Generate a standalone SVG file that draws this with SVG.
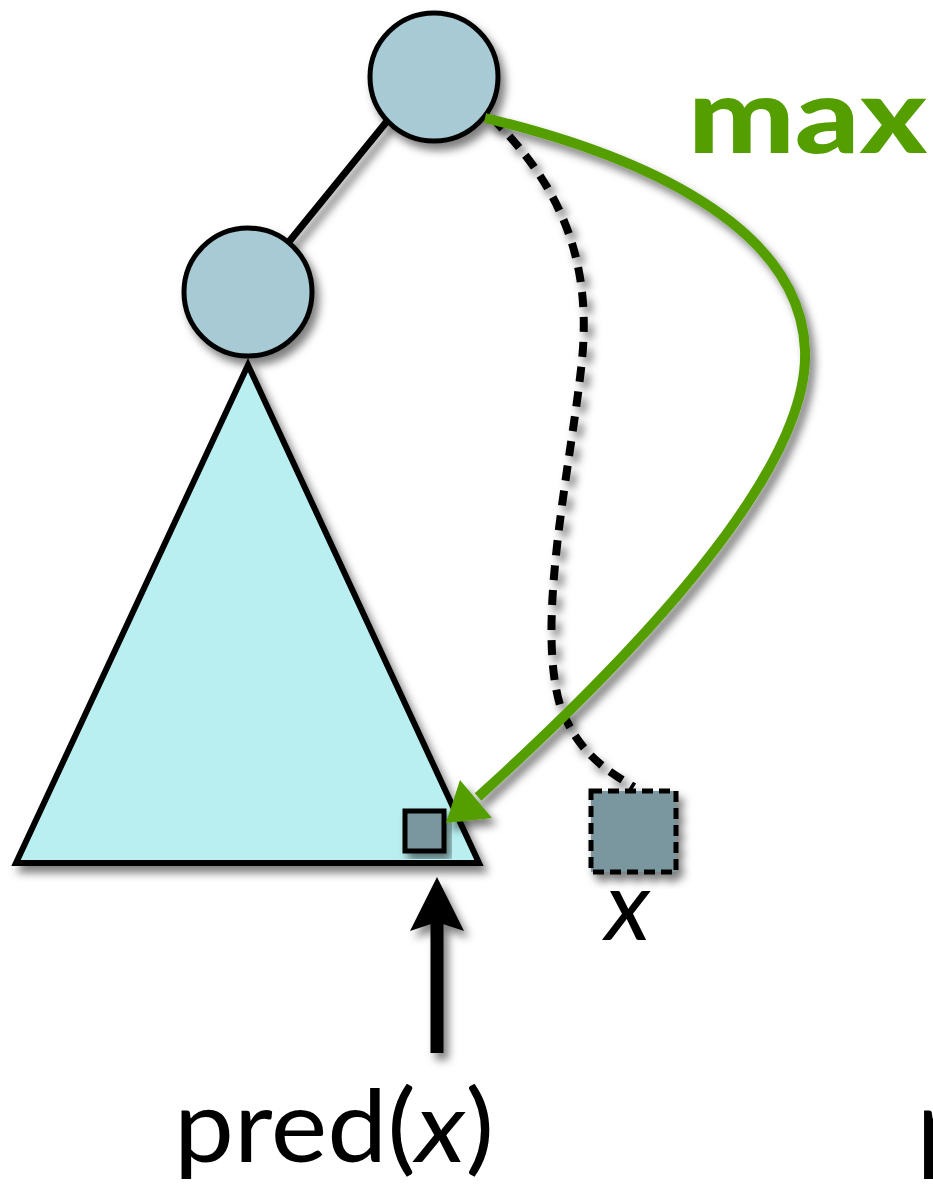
<svg xmlns="http://www.w3.org/2000/svg" width="933" height="1191" viewBox="0 0 933 1191">
  <defs>
    <filter id="shadow" x="-20%" y="-20%" width="140%" height="140%">
      <feDropShadow dx="5" dy="7" stdDeviation="4.5" flood-color="#000" flood-opacity="0.5"/>
    </filter>
  </defs>
  <style>
    .node { fill: #a8cad5; stroke: #000; stroke-width: 5; }
    .edge { stroke: #000; stroke-width: 7; fill: none; }
    .dashed { stroke: #000; stroke-width: 8; fill: none; stroke-dasharray: 15 10; }
    .green { stroke: #559e00; stroke-width: 10; fill: none; }
    .leaf { fill: #7a969e; stroke: #000; stroke-width: 5; }
    .lbl { font-family: Lato, "Liberation Sans", sans-serif; fill: #000; }
  </style>

  <rect width="933" height="1191" fill="#fff"/>

  <!-- tree edge, search path and predecessor pointer -->
  <g id="connectors" filter="url(#shadow)">
    <line class="edge" x1="388" y1="120" x2="288" y2="243"/>
    <path class="dashed" d="M492,118 C560,185 592,260 582,360 C572,460 535,620 560,705 C578,755 610,772 634,787"/>
    <g id="pred-arrow">
      <line x1="437" y1="1053" x2="437" y2="920" stroke="#000" stroke-width="13"/>
      <polygon points="437,877 464,931 437,922 410,931" fill="#000"/>
    </g>
  </g>

  <!-- subtree -->
  <g id="subtree" filter="url(#shadow)">
    <polygon points="248,365 16,863 479,863" fill="#b9eff1" stroke="#000" stroke-width="6" stroke-linejoin="miter"/>
  </g>

  <!-- tree nodes -->
  <g id="root" filter="url(#shadow)">
    <circle class="node" cx="434" cy="77" r="64"/>
  </g>
  <g id="left-child" filter="url(#shadow)">
    <circle class="node" cx="248" cy="292" r="64"/>
  </g>

  <!-- predecessor leaf -->
  <g id="pred-leaf" filter="url(#shadow)">
    <rect class="leaf" x="405" y="811" width="39" height="40"/>
  </g>

  <!-- searched key x -->
  <g id="x-leaf" filter="url(#shadow)">
    <rect x="591" y="791" width="85" height="81" fill="#7a969e" stroke="#000" stroke-width="5" stroke-dasharray="11 6"/>
  </g>

  <!-- max pointer, drawn over the subtree -->
  <g id="max-arrow" filter="url(#shadow)">
    <path class="green" d="M485,118 C640,155 800,225 805,350 C810,470 640,650 478,797"/>
    <polygon points="446,823 460,780 492,818" fill="#559e00"/>
  </g>

  <!-- labels -->
  <text id="max-label" x="688" y="153" font-family="Lato, 'Liberation Sans', sans-serif" font-weight="900" font-size="104" fill="#559e00" textLength="239" lengthAdjust="spacingAndGlyphs">max</text>
  <text id="x-label" class="lbl" x="605" y="940" font-size="98" font-style="italic">x</text>
  <text id="pred-label" class="lbl" x="174" y="1162" font-size="100" textLength="320" lengthAdjust="spacingAndGlyphs">pred(<tspan font-style="italic">x</tspan>)</text>
  <text id="edge-label" class="lbl" x="917" y="1162" font-size="100">p</text>
</svg>
